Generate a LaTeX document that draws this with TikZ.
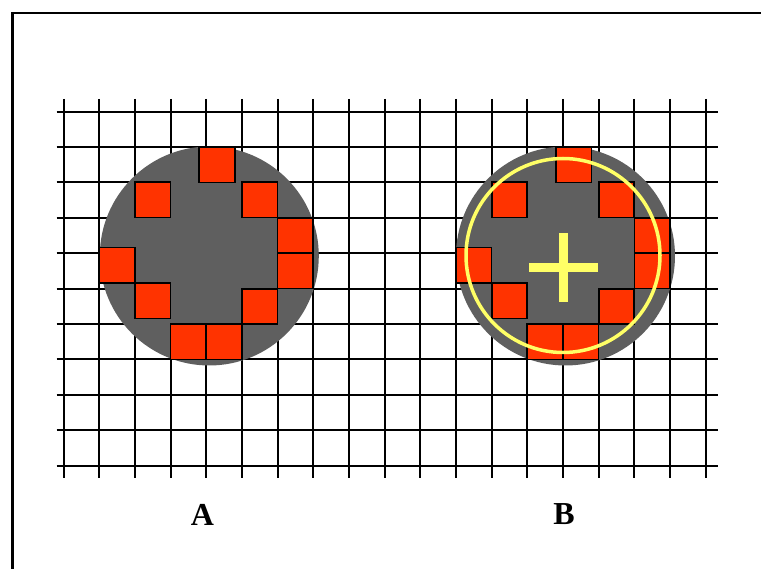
\documentclass[tikz,border=0pt]{standalone}
\usepackage{fontspec}
\setmainfont{Liberation Serif}
\definecolor{diskgray}{HTML}{5F5F5F}
\definecolor{cellred}{HTML}{FF3300}
\definecolor{hlyellow}{HTML}{FFFF66}
\begin{document}
\begin{tikzpicture}[x=1pt,y=-1pt,
  frameline/.style={line width=2.6pt},
  gridline/.style={line width=2pt},
  disk/.style={fill=diskgray},
  cellsq/.style={fill=cellred,draw=black,line width=1.7pt},
  ring/.style={draw=hlyellow,line width=3.5pt},
  crossbar/.style={fill=hlyellow},
  caption/.style={font=\fontsize{32}{32}\selectfont\bfseries,inner sep=0pt}]
\useasboundingbox (0,0) rectangle (761,569);
% frame
\draw[frameline] (12.5,569) -- (12.5,13) -- (761,13);
% grid
\foreach \i in {0,...,18}
  \draw[gridline] ({63.5+35.68*\i},99) -- ({63.5+35.68*\i},478);
\foreach \j in {0,...,10}
  \draw[gridline] (56.7,{111.7+35.4*\j}) -- (718.3,{111.7+35.4*\j});
% disks
\fill[disk] (209.3,256) circle[radius=109.5pt];
\fill[disk] (565.5,256) circle[radius=109.5pt];
% red squares (column index, row y-top, x offset)
\foreach \sh in {0,10}{
  \foreach \c/\yy/\dx in {4/147.3/-7, 2/182.2/0, 5/182.2/0, 6/217.7/0, 6/253.2/0,
                          1/247.6/0, 2/283.3/0, 5/289.0/0, 3/324.3/0, 4/324.3/0}
    \draw[cellsq] ({63.5+35.68*(\c+\sh)+\dx},\yy) rectangle ++(35.6,35.2);
}
% yellow ring and cross
\draw[ring] (563,255.5) circle[radius=97pt];
\fill[crossbar] (559.3,233.3) rectangle (568.3,301.7);
\fill[crossbar] (529.3,263.3) rectangle (598.3,271.7);
% labels
\node[caption] (labA) at (202.5,514.5) {A};
\node[caption] (labB) at (564,514.5) {B};
\end{tikzpicture}
\end{document}
